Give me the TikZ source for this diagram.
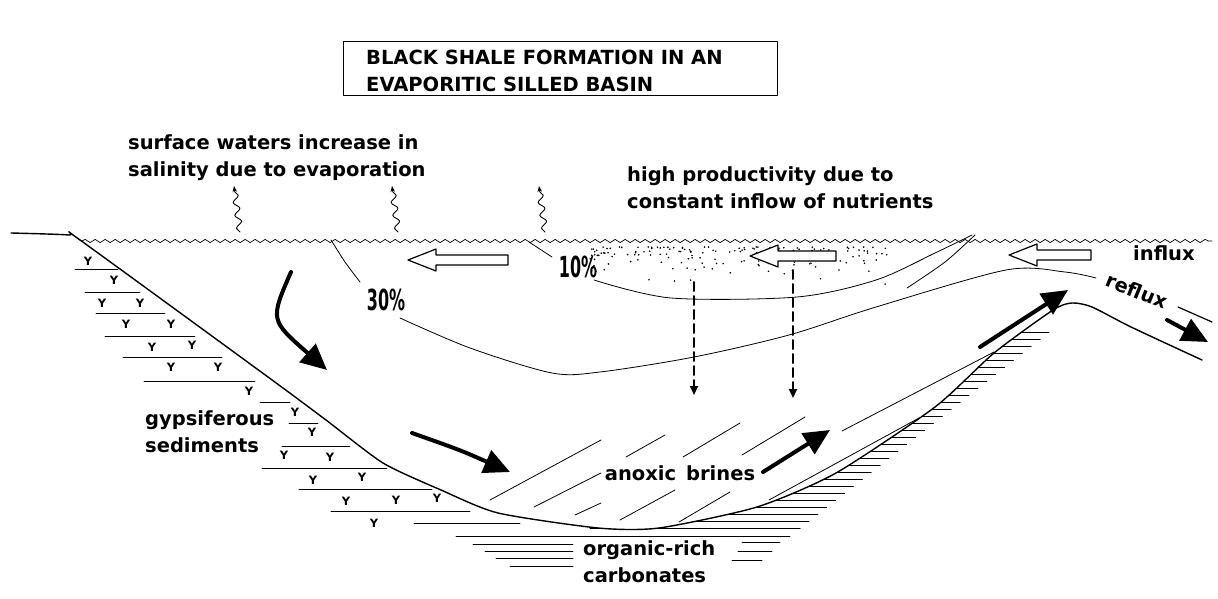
\documentclass[tikz,border=0pt]{standalone}
\usepackage{fontspec}
\setmainfont{DejaVu Sans}
\usetikzlibrary{arrows.meta,decorations.pathmorphing}

\tikzset{
  lbl/.style={font=\fontsize{19.5}{27}\selectfont\bfseries, inner sep=0pt, align=left},
  pct/.style={font=\fontsize{29}{29}\selectfont\bfseries, inner sep=0pt},
  flow/.style={line width=4pt, -{Triangle[length=26pt,width=24pt]}},
  sink/.style={line width=2pt, dash pattern=on 9pt off 5pt, -{Triangle[length=9pt,width=8pt]}},
  fume/.style={line width=0.9pt, decorate, decoration={snake,amplitude=3pt,segment length=13pt,post length=5pt}, -{Stealth[length=6pt]}},
  gyp/.style={font=\fontsize{11.5}{11.5}\selectfont\bfseries, inner sep=0pt}
}
% hollow arrow pointing left: tip x, y, length
\newcommand\hollowleft[3]{\draw[line width=1.2pt, fill=white] (#1,#2) -- ++(28,-11) -- ++(0,6) -- ++(#3-28,0) -- ++(0,10) -- ++(-#3+28,0) -- ++(0,6) -- cycle;}
\def\floorpts{(11,233) (69,235) (80,240) (268,377) (326,420) (383,463) (441,490) (498,513) (598,528) (659,528) (757,507) (836,473) (935,407) (994,353) (1053,310) (1072,303) (1092,307) (1131,327) (1202,360)}

\begin{document}
\begin{tikzpicture}[x=1pt,y=-1pt,line cap=round,line join=round]
\useasboundingbox (0,0) rectangle (1218,599);

% title
\draw[line width=1pt] (343,42) rectangle (777,96);
\node[lbl, anchor=north west] (title) at (366,50) {BLACK SHALE FORMATION IN AN\\EVAPORITIC SILLED BASIN};

% shore and basin floor
\draw[line width=1.4pt] plot[smooth, tension=0.4] coordinates {\floorpts};
\draw[line width=1.2pt] (1178,307) -- (1212,322);

% water surface
\draw[line width=0.7pt, decorate, decoration={snake,amplitude=1.6pt,segment length=10pt}] (82,241) -- (1212,241);

% salinity lines
\draw[line width=0.8pt] plot[smooth] coordinates {(331,240) (345,262) (360,282)};
\draw[line width=0.8pt] plot[smooth] coordinates {(400,318) (470,348) (552,373) (600,372) (694,357) (789,335) (876,307) (1006,270) (1065,272) (1096,278)};
\draw[line width=0.8pt] plot[smooth] coordinates {(529,242) (552,257)};
\draw[line width=0.8pt] plot[smooth] coordinates {(594,280) (671,298) (797,297) (876,280) (935,253) (972,235)};
\draw[line width=0.8pt] plot[smooth] coordinates {(975,235) (945,262) (907,288)};
\node[pct] (p30) at (386,300) {\scalebox{0.55}[1]{30\%}};
\node[pct] (p10) at (578,267) {\scalebox{0.55}[1]{10\%}};

% productive zone
\pgfmathsetseed{11}
\foreach \i in {1,...,170}{
  \pgfmathsetmacro\dx{590+300*rnd}
  \pgfmathsetmacro\dy{247+40*rnd*rnd}
  \fill (\dx,\dy) circle (0.9);
}

% gypsiferous sediments
\foreach \y/\xa/\xb in {269/75/118, 292/85/140, 313/96/165, 336/105/195, 357/123/222, 381/144/255, 402/260/290, 423/289/318, 446/282/350, 468/262/387, 489/299/432, 511/331/470, 523/414/520}
  \draw[line width=0.9pt] (\xa,\y) -- (\xb,\y);
\foreach \x/\y in {88/261, 114/280, 102/303, 140/303, 126/324, 171/324, 152/347, 192/345, 171/367, 218/367, 249/391, 295/412, 312/432, 284/455, 330/457, 313/480, 362/477, 346/501, 396/500, 437/498, 374/523}
  \node[gyp] at (\x,\y) {Y};

% organic-rich carbonates
\foreach \y/\xa/\xb in {536/456/790, 544/473/573, 551/485/573, 558/496/573, 566/510/573, 542/742/780, 551/738/772, 560/732/762}
  \draw[line width=0.9pt] (\xa,\y) -- (\xb,\y);
\begin{scope}
  \clip plot[smooth, tension=0.4] coordinates {\floorpts} -- (1218,599) -- (598,599) -- cycle;
  \foreach \y in {332,339,...,533}
    \draw[line width=0.9pt] (590,\y) -- ({1049-(\y-332)*1.27},\y);
\end{scope}

% brines
\foreach \xa/\ya/\xb/\yb in {490/500/601/440, 534/507/601/473, 575/515/601/503, 626/457/665/435, 683/457/740/423, 742/455/805/417, 620/520/675/490, 679/522/730/492, 842/431/994/352, 769/500/919/418}
  \draw[line width=0.8pt] (\xa,\ya) -- (\xb,\yb);

% circulation
\draw[flow] (291,272) .. controls (270,320) .. (327,370);
\draw[flow] (412,433) .. controls (460,450) .. (510,472);
\draw[flow] (763,472) -- (830,430);
\draw[flow] (980,347) -- (1068,290);
\draw[flow] (1167,320) -- (1208,342);
\draw[sink] (694,282) -- (694,395);
\draw[sink] (793,270) -- (793,398);
\hollowleft{408}{260}{100}
\hollowleft{750}{256}{86}
\hollowleft{1009}{255}{82}

% evaporation
\foreach \x in {240,398,545}
  \draw[fume] (\x,232) -- (\x-6,186);

% labels
\node[lbl, anchor=north west] (surf) at (128,134) {surface waters increase in\\salinity due to evaporation};
\node[lbl, anchor=north west] (prod) at (627,166) {high productivity due to\\constant inflow of nutrients};
\node[lbl, anchor=west] (influx) at (1133,253) {influx};
\node[lbl, anchor=center, rotate=-22] (reflux) at (1137,291) {reflux};
\node[lbl, anchor=north west] (gyps) at (145,410) {gypsiferous\\sediments};
\node[lbl, anchor=center] (brine) at (680,473) {anoxic\, brines};
\node[lbl, anchor=north west] (carb) at (583,540) {organic-rich\\carbonates};
\end{tikzpicture}
\end{document}
